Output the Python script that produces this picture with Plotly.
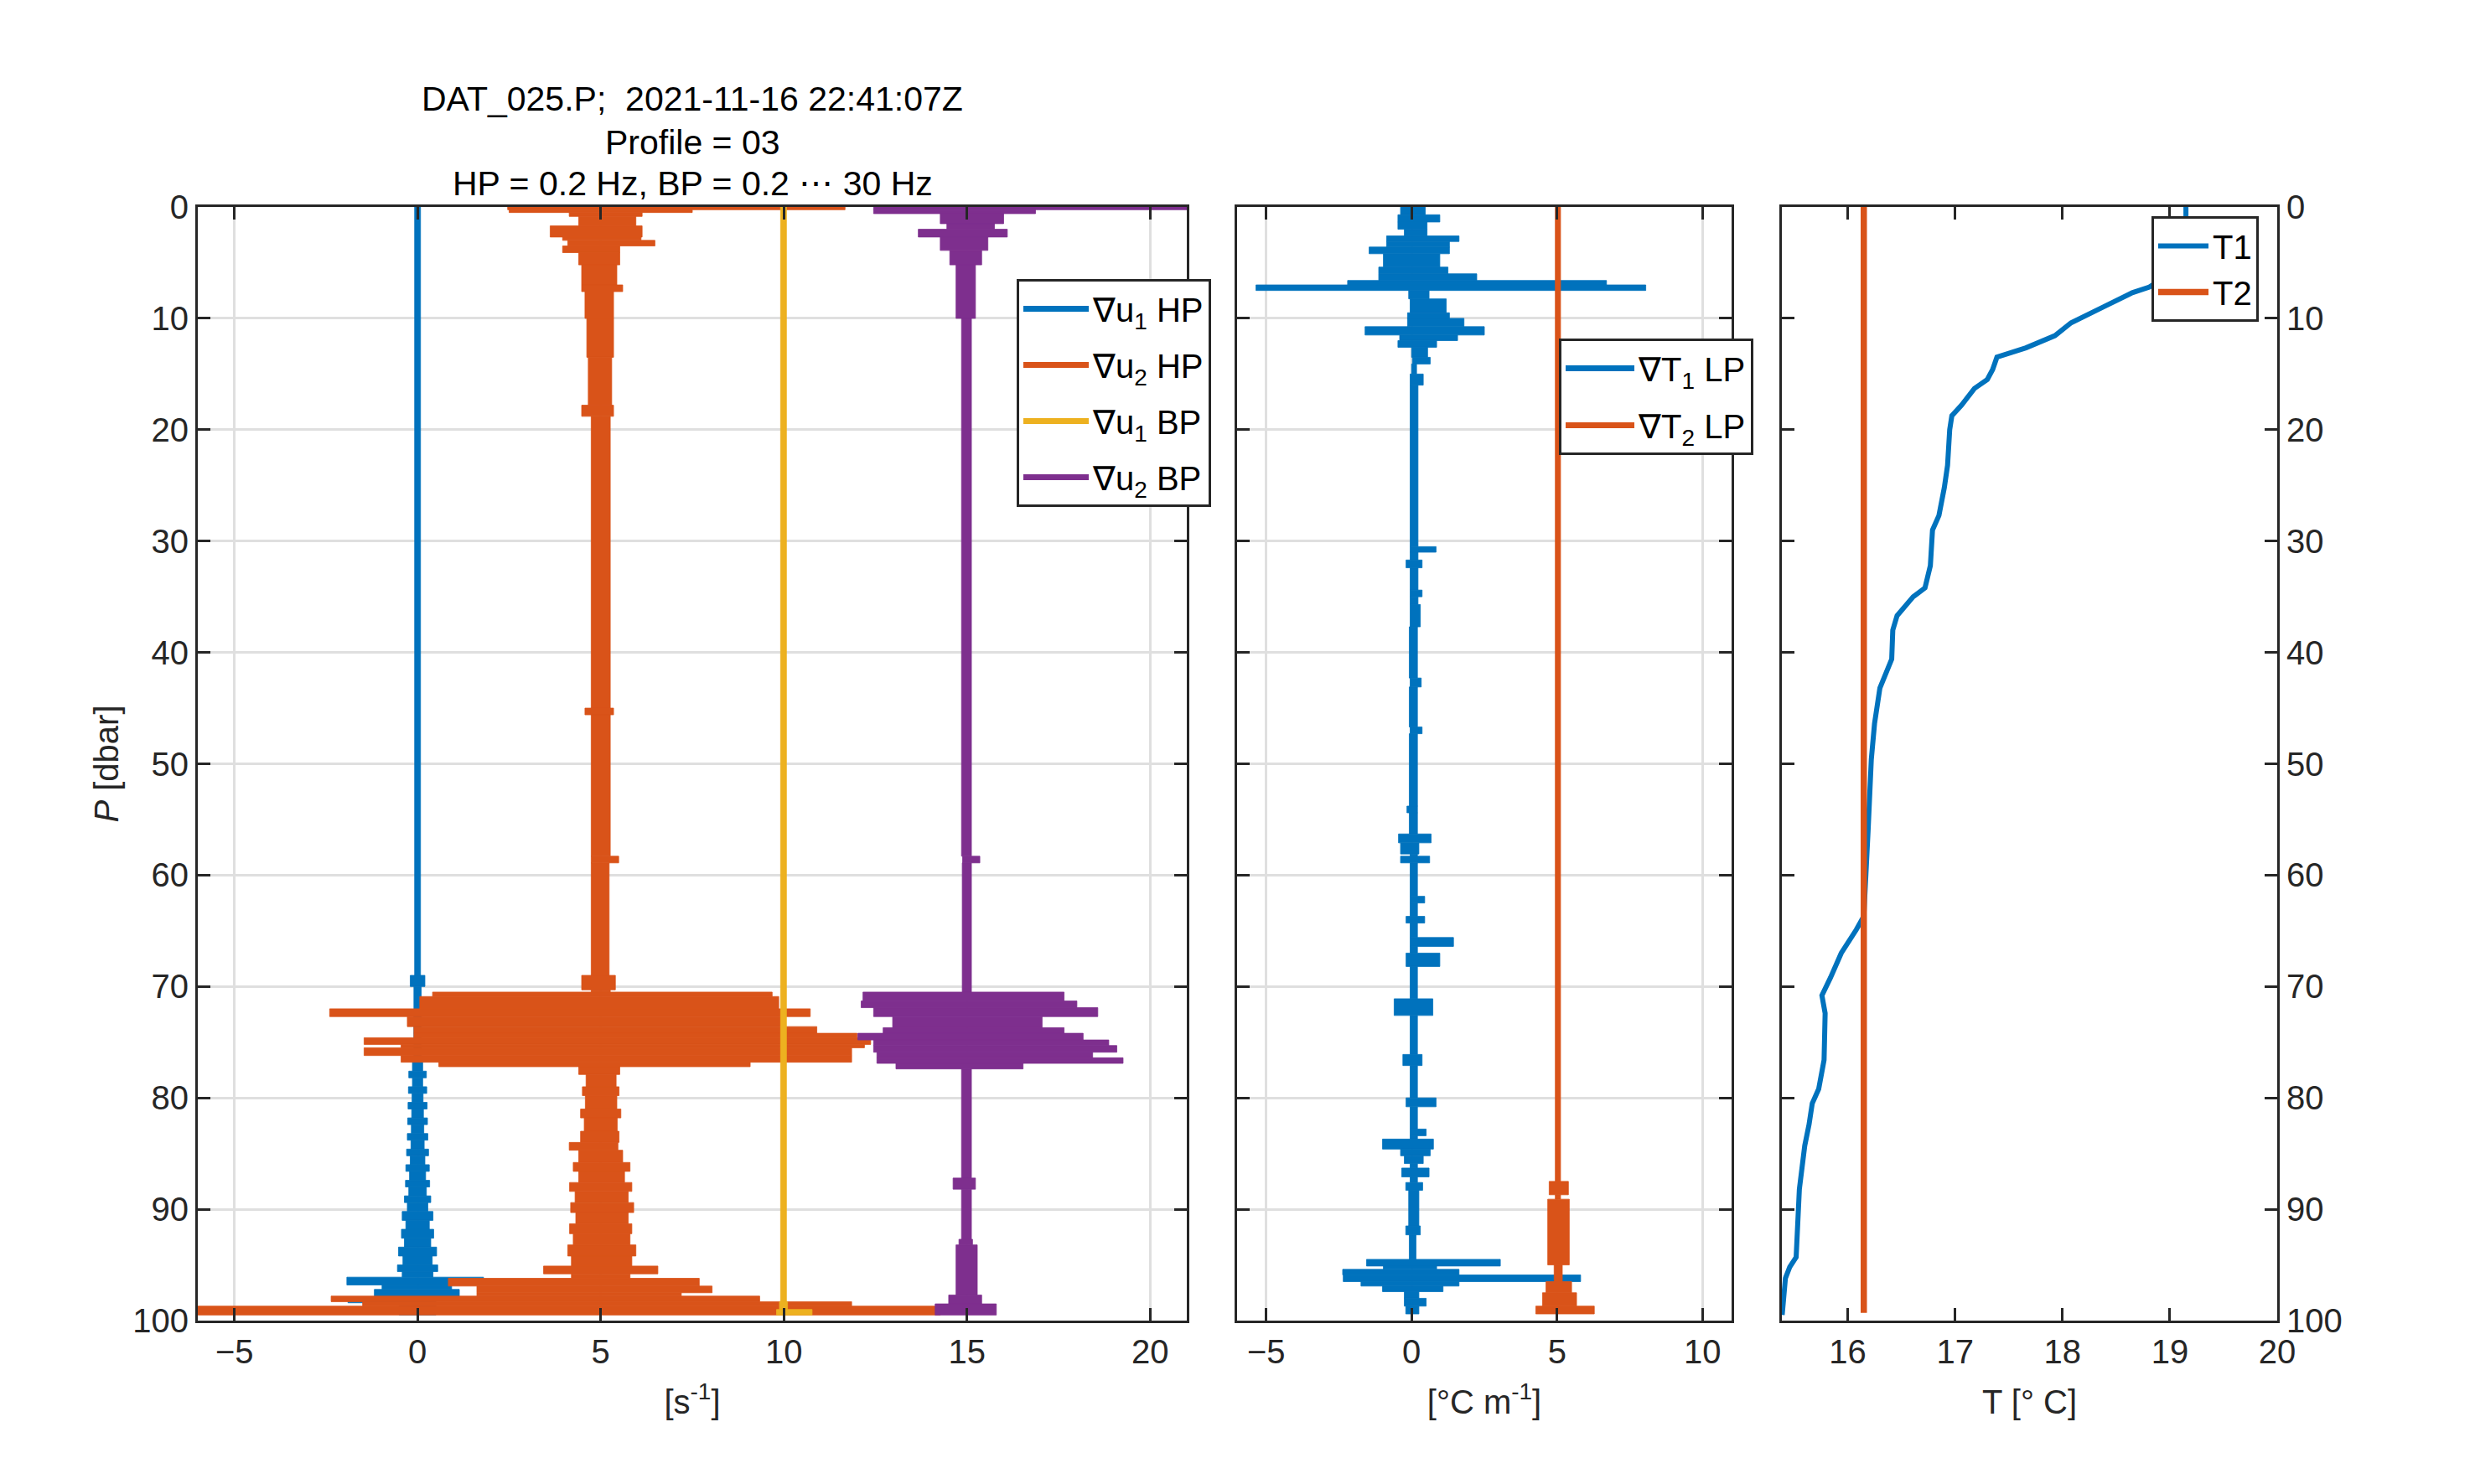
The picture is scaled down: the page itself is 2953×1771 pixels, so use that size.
import plotly.graph_objects as go

# ---------------- data ----------------
# Panel 1 : shear profiles drawn as min/max envelopes per pressure segment,
# values relative to each trace's plotting offset.
u_offsets = [0, 5, 10, 15]

u1hp_p = [0, 69.0, 70.0, 76.8, 77.6, 78.2, 79.0, 79.6, 80.4, 81.0, 81.8, 82.4, 83.2, 83.8,
          84.6, 85.2, 86.0, 86.6, 87.4, 88.0, 88.8, 89.4, 90.2, 91.0, 91.8, 92.6, 93.4, 94.2,
          95.0, 95.6, 96.1, 96.8, 97.2, 98.0, 98.4, 99.5]
u1hp_lo = [-0.08, -0.2, -0.1, -0.14, -0.24, -0.14, -0.25, -0.15, -0.26, -0.16, -0.27, -0.17,
           -0.28, -0.18, -0.3, -0.2, -0.32, -0.22, -0.33, -0.24, -0.36, -0.28, -0.42, -0.32,
           -0.44, -0.36, -0.52, -0.4, -0.55, -0.42, -1.93, -0.97, -1.18, -1.9, -0.5]
u1hp_hi = [0.08, 0.2, 0.1, 0.14, 0.24, 0.14, 0.25, 0.15, 0.26, 0.16, 0.27, 0.17,
           0.28, 0.18, 0.3, 0.2, 0.32, 0.22, 0.33, 0.24, 0.36, 0.28, 0.42, 0.32,
           0.44, 0.36, 0.52, 0.4, 0.55, 0.42, 1.8, 0.93, 1.14, 0.5, 0.5]

u2hp_p = [0, 0.25, 0.5, 0.85, 1.7, 2.7, 3.0, 3.5, 4.1, 5.2, 7.0, 7.6, 10, 13.5, 17.8, 18.8,
          45.0, 45.6, 58.3, 58.9, 69.0, 70.3, 70.5, 70.9, 72.0, 72.7, 73.6, 74.2, 74.6, 75.2,
          75.5, 76.2, 76.8, 77.2, 77.9, 79.0, 79.8, 81.0, 81.8, 83.0, 84.0, 84.7, 85.8, 86.6,
          87.6, 88.4, 89.4, 90.3, 91.3, 92.2, 93.2, 94.2, 95.1, 95.8, 96.2, 96.9, 97.5, 97.8,
          98.3, 98.7, 99.5]
u2hp_lo = [-2.54, -2.5, -0.86, -0.6, -1.38, -1.04, -0.9, -1.04, -0.6, -0.52,
           -0.52, -0.43, -0.38, -0.34, -0.52, -0.26, -0.43, -0.26, -0.26, -0.26,
           -0.52, -0.26, -4.59, -4.94, -7.4, -5.28, -5.1, -5.1, -6.46, -5.45,
           -6.46, -5.45, -4.42, -0.6,
           -0.4, -0.5, -0.42, -0.55, -0.45, -0.55, -0.86, -0.6, -0.75, -0.6, -0.85, -0.7,
           -0.82, -0.68, -0.85, -0.75, -0.9, -0.8,
           -1.56, -0.8, -4.16, -3.38, -3.38, -7.36, -6.5, -11.0]
u2hp_hi = [6.67, 2.5, 1.13, 0.96, 1.13, 1.1, 1.48, 0.52, 0.52, 0.44,
           0.6, 0.35, 0.35, 0.3, 0.35, 0.26, 0.35, 0.26, 0.49, 0.23,
           0.4, 0.26, 4.68, 4.86, 5.72, 4.94, 5.9, 7.0, 7.37, 7.2,
           6.85, 6.85, 4.08, 0.52,
           0.42, 0.5, 0.44, 0.55, 0.45, 0.5, 0.47, 0.6, 0.8, 0.65, 0.85, 0.75,
           0.9, 0.75, 0.85, 0.8, 0.96, 0.85,
           1.56, 0.8, 2.69, 3.04, 2.2, 4.34, 6.85, 9.27]

u1bp_p = [0, 98.3, 99.0, 99.5]
u1bp_lo = [-0.09, -0.12, -0.2]
u1bp_hi = [0.07, 0.1, 0.77]

u2bp_p = [0, 0.25, 0.6, 1.5, 2.0, 2.7, 3.9, 5.2, 10, 58.3, 58.9, 70.5, 71.3, 71.9, 72.7,
          73.7, 74.2, 74.8, 75.3, 75.9, 76.4, 76.9, 77.4, 87.2, 88.2, 92.7, 93.2, 97.7, 98.5, 99.5]
u2bp_lo = [-2.55, -2.55, -0.73, -0.55, -1.33, -0.73, -0.47, -0.3, -0.15, -0.12, -0.13, -2.84,
           -2.89, -2.55, -2.03, -2.29, -2.98, -2.55, -2.55, -2.46, -2.46, -1.94, -0.15, -0.38,
           -0.15, -0.22, -0.3, -0.5, -0.87]
u2bp_hi = [6.0, 1.87, 1.0, 0.75, 1.1, 0.57, 0.4, 0.23, 0.12, 0.35, 0.12, 2.65, 3.0, 3.57, 2.05,
           2.65, 3.17, 3.87, 4.09, 3.43, 4.26, 1.53, 0.12, 0.23, 0.12, 0.15, 0.28, 0.4, 0.8]

# Panel 2 : temperature gradient envelopes
t_offsets = [0, 5]

gt1_p = [0, 0.7, 1.35, 2.0, 2.6, 3.1, 3.6, 4.2, 5.4, 6.0, 6.6, 7.0, 7.5, 8.25, 9.5, 10.0,
         10.75, 11.5, 12.0, 12.6, 13.5, 14.1, 15.0, 16.0, 30.5, 31.0, 31.7, 32.4, 34.4, 35.0,
         35.7, 37.7, 42.3, 43.1, 46.7, 47.3, 53.8, 54.4, 56.3, 57.1, 58.1, 58.3, 58.9, 61.9,
         62.5, 63.7, 64.3, 65.6, 66.4, 67.0, 68.2, 71.1, 72.6, 76.1, 77.1, 80.0, 80.8, 82.8,
         83.4, 83.7, 84.6, 85.2, 85.9, 86.3, 87.1, 87.6, 88.3, 91.5, 92.3, 94.5, 95.1, 95.4,
         95.9, 96.5, 96.9, 97.4, 98.0, 98.7, 99.4]
gt1_lo = [-0.38, -0.47, -0.47, -0.25, -0.86, -0.86, -1.46, -0.97, -1.13, -1.13, -2.2, -5.35,
          -0.1, -0.05, -0.14, -0.14, -1.6, -0.41, -0.47, 0.0, 0.03, 0.0, -0.05, -0.05, -0.05,
          -0.05, -0.19, -0.05, -0.05, -0.05, -0.05, -0.08, -0.05, -0.08, -0.05, -0.08, -0.16,
          -0.08, -0.45, -0.38, -0.05, -0.38, -0.05, -0.05, -0.05, -0.19, -0.05, -0.05, -0.05,
          -0.19, -0.05, -0.6, -0.05, -0.3, -0.05, -0.19, -0.05, -0.05, -0.05, -1.0, -0.38,
          -0.25, -0.05, -0.34, -0.05, -0.2, -0.1, -0.2, -0.08, -1.55, -0.97, -2.37, -2.35,
          -1.74, -1.0, -0.25, -0.25, -0.2]
gt1_hi = [0.47, 0.97, 0.53, 0.53, 1.63, 1.3, 1.3, 0.97, 1.25, 2.24, 6.7, 8.05, 0.6, 1.19, 1.3,
          1.8, 2.5, 1.58, 0.86, 0.55, 0.64, 0.17, 0.4, 0.22, 0.84, 0.22, 0.36, 0.22, 0.36,
          0.22, 0.3, 0.2, 0.33, 0.2, 0.36, 0.2, 0.2, 0.2, 0.67, 0.25, 0.2, 0.62, 0.2, 0.45,
          0.2, 0.45, 0.2, 1.44, 0.2, 0.97, 0.2, 0.73, 0.2, 0.36, 0.2, 0.84, 0.2, 0.5, 0.2,
          0.75, 0.64, 0.4, 0.2, 0.6, 0.2, 0.38, 0.25, 0.3, 0.15, 3.05, 0.86, 1.63, 5.81, 1.63,
          1.08, 0.25, 0.5, 0.25]

gt2_p = [0, 87.5, 88.7, 89.1, 95.0, 96.5, 97.5, 98.7, 99.4]
gt2_lo = [-0.06, -0.27, -0.06, -0.32, -0.1, -0.38, -0.5, -0.73]
gt2_hi = [0.12, 0.39, 0.12, 0.42, 0.18, 0.5, 0.67, 1.28]

# Panel 3 : temperature profiles
T1_p = [0, 1.5, 4, 6, 7.19, 7.7, 8.98, 10.4, 11.56, 12.65, 13.48, 14.6, 15.5, 16.3, 17.8,
        18.75, 20.0, 23.2, 25.2, 27.7, 29.0, 32.2, 34.2, 35.0, 36.7, 38.0, 40.6, 43.2, 46.4,
        49.6, 56.0, 61.2, 63.7, 64.9, 66.0, 67.0, 69.2, 70.8, 72.4, 76.6, 79.2, 80.5, 82.4,
        84.3, 88.2, 94.3, 95.2, 96.2, 99.5]
T1 = [19.15, 19.15, 19.1, 19.0, 18.81, 18.65, 18.38, 18.08, 17.93, 17.66, 17.39, 17.35, 17.30,
      17.18, 17.06, 16.97, 16.95, 16.93, 16.90, 16.85, 16.79, 16.77, 16.72, 16.61, 16.46, 16.42,
      16.41, 16.30, 16.25, 16.22, 16.19, 16.17, 16.15, 16.08, 16.0, 15.94, 15.84, 15.76, 15.79,
      15.78, 15.73, 15.67, 15.64, 15.60, 15.55, 15.52, 15.46, 15.42, 15.39]
T2_p = [0, 99.3]
T2 = [16.15, 16.15]

# tick values / labels
p_ticks = list(range(0, 101, 10))
x1_ticks = [-5, 0, 5, 10, 15, 20]
x2_ticks = [-5, 0, 5, 10]
x3_ticks = [16, 17, 18, 19, 20]

title_lines = ["DAT_025.P;  2021-11-16 22:41:07Z", "Profile = 03", "HP = 0.2 Hz, BP = 0.2 ⋯ 30 Hz"]
names_u = ["∇u<sub>1</sub> HP", "∇u<sub>2</sub> HP", "∇u<sub>1</sub> BP", "∇u<sub>2</sub> BP"]
names_t = ["∇T<sub>1</sub> LP", "∇T<sub>2</sub> LP"]
names_T = ["T1", "T2"]

for p, lo, hi in [(u1hp_p, u1hp_lo, u1hp_hi), (u2hp_p, u2hp_lo, u2hp_hi),
                  (u1bp_p, u1bp_lo, u1bp_hi), (u2bp_p, u2bp_lo, u2bp_hi),
                  (gt1_p, gt1_lo, gt1_hi), (gt2_p, gt2_lo, gt2_hi)]:
    assert len(p) == len(lo) + 1 == len(hi) + 1, (len(p), len(lo), len(hi))
assert len(T1_p) == len(T1)

# ---------------- styling ----------------
BLUE, ORANGE, YELLOW, PURPLE = "#0072BD", "#D95319", "#EDB120", "#7E2F8E"
AX = "#262626"
GRID = "#dfdfdf"
FONT = "Liberation Sans, Arial, Helvetica, sans-serif"
PAGE_OFF = 8                      # default body margin of the html page
W, H = 2953 - PAGE_OFF, 1771 - PAGE_OFF
# plot area in page pixels
AX_L, AX_R, AX_T, AX_B = 236, 2717, 247, 1576
ML, MT = AX_L - PAGE_OFF, AX_T - PAGE_OFF
MR, MB = W - (AX_R - PAGE_OFF), H - (AX_B - PAGE_OFF)
PW, PH = AX_R - AX_L, AX_B - AX_T


def px_x(px):
    return (px - AX_L) / PW


def px_y(py):
    return 1 - (py - AX_T) / PH


def envelope(p, lo, hi, offset, color, xa, ya):
    yc = [(a + b) / 2 for a, b in zip(p[:-1], p[1:])]
    wd = [b - a for a, b in zip(p[:-1], p[1:])]
    base = [offset + v for v in lo]
    length = [h - l for l, h in zip(lo, hi)]
    return go.Bar(orientation="h", y=yc, x=length, base=base, width=wd,
                  marker=dict(color=color, line=dict(color=color, width=0.8)),
                  showlegend=False, hoverinfo="skip", xaxis=xa, yaxis=ya)


def legend_line(name, color, legend, group, xa, ya):
    return go.Scatter(x=[None], y=[None], mode="lines", name=name,
                      line=dict(color=color, width=7), legend=legend,
                      legendgroup=group, showlegend=True, xaxis=xa, yaxis=ya)


fig = go.Figure()

# panel 1
u_sets = [(u1hp_p, u1hp_lo, u1hp_hi), (u2hp_p, u2hp_lo, u2hp_hi),
          (u1bp_p, u1bp_lo, u1bp_hi), (u2bp_p, u2bp_lo, u2bp_hi)]
u_cols = [BLUE, ORANGE, YELLOW, PURPLE]
for (p, lo, hi), off, c in zip(u_sets, u_offsets, u_cols):
    fig.add_trace(envelope(p, lo, hi, off, c, "x", "y"))
for i, (n, c) in enumerate(zip(names_u, u_cols)):
    fig.add_trace(legend_line(n, c, "legend", "u%d" % i, "x", "y"))

# panel 2
t_sets = [(gt1_p, gt1_lo, gt1_hi), (gt2_p, gt2_lo, gt2_hi)]
t_cols = [BLUE, ORANGE]
for (p, lo, hi), off, c in zip(t_sets, t_offsets, t_cols):
    fig.add_trace(envelope(p, lo, hi, off, c, "x2", "y2"))
for i, (n, c) in enumerate(zip(names_t, t_cols)):
    fig.add_trace(legend_line(n, c, "legend2", "t%d" % i, "x2", "y2"))

# panel 3
fig.add_trace(go.Scatter(x=T1, y=T1_p, mode="lines", name=names_T[0],
                         line=dict(color=BLUE, width=6), legend="legend3",
                         xaxis="x3", yaxis="y3", hoverinfo="skip"))
fig.add_trace(go.Scatter(x=T2, y=T2_p, mode="lines", name=names_T[1],
                         line=dict(color=ORANGE, width=7.5), legend="legend3",
                         xaxis="x3", yaxis="y3", hoverinfo="skip"))

common_axis = dict(showline=True, linecolor=AX, linewidth=3, mirror="ticks",
                   ticks="inside", ticklen=15, tickwidth=3, tickcolor=AX,
                   zeroline=False, automargin=False,
                   tickfont=dict(family=FONT, size=40, color=AX))
title_font = dict(family=FONT, size=40, color=AX)
legend_common = dict(xanchor="left", yanchor="top", bgcolor="white", bordercolor=AX,
                     borderwidth=3,
                     font=dict(family=FONT, size=40, color="black"))

yrange = [100, 0]

fig.update_layout(
    width=W, height=H, paper_bgcolor="white", plot_bgcolor="white",
    margin=dict(l=ML, r=MR, t=MT, b=MB),
    barmode="overlay",
    font=dict(family=FONT, size=40, color=AX),
    xaxis=dict(common_axis, domain=[0, px_x(1416)], range=[-6, 21], tickvals=x1_ticks,
               showgrid=True, gridcolor=GRID, gridwidth=3, anchor="y",
               title=dict(text="[s<sup>-1</sup>]", font=title_font, standoff=25)),
    yaxis=dict(common_axis, domain=[0, 1], range=yrange, tickvals=p_ticks,
               showgrid=True, gridcolor=GRID, gridwidth=3, anchor="x",
               title=dict(text="<i>P</i> [dbar]", font=title_font, standoff=5)),
    xaxis2=dict(common_axis, domain=[px_x(1476), px_x(2066)], range=[-6, 11], tickvals=x2_ticks,
                showgrid=True, gridcolor=GRID, gridwidth=3, anchor="y2",
                title=dict(text="[°C m<sup>-1</sup>]", font=title_font, standoff=25)),
    yaxis2=dict(common_axis, domain=[0, 1], range=yrange, tickvals=p_ticks, showticklabels=False,
                showgrid=True, gridcolor=GRID, gridwidth=3, anchor="x2"),
    xaxis3=dict(common_axis, domain=[px_x(2126), 1], range=[15.387, 20], tickvals=x3_ticks,
                showgrid=False, anchor="y3",
                title=dict(text="T [° C]", font=title_font, standoff=25)),
    yaxis3=dict(common_axis, domain=[0, 1], range=yrange, tickvals=p_ticks, side="right",
                showgrid=False, anchor="x3"),
    legend=dict(legend_common, x=px_x(1213), y=px_y(333), tracegroupgap=12, itemwidth=78),
    legend2=dict(legend_common, x=px_x(1860), y=px_y(404), tracegroupgap=13, itemwidth=82),
    legend3=dict(legend_common, x=px_x(2567), y=px_y(258), tracegroupgap=0, itemwidth=60),
    showlegend=True,
)

for text, yc in zip(title_lines, [118, 170, 219]):
    fig.add_annotation(text=text, xref="paper", yref="paper", x=px_x(826), y=px_y(yc),
                       xanchor="center", yanchor="middle", showarrow=False,
                       font=dict(family=FONT, size=41, color="black"))

fig.write_html("out.html")
